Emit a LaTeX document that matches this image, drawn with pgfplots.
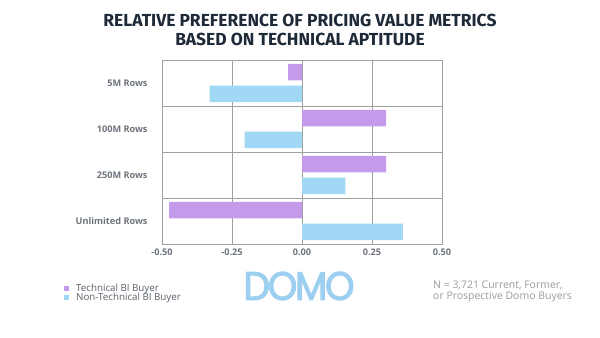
\documentclass[border=0pt]{standalone}
\usepackage{fontspec}
\setmainfont{Open Sans}
\newfontfamily\titlefont{Fira Sans}
\newfontfamily\logofont[LetterSpace=-6, FakeBold=3]{Poppins}
\usepackage{graphicx}
\usepackage{pgfplots}
\pgfplotsset{compat=1.18}
\usepackage{pgfplotstable}
\definecolor{techc}{RGB}{196,155,235}
\definecolor{nontechc}{RGB}{160,216,245}
\definecolor{gridc}{RGB}{160,160,160}
\definecolor{titlec}{RGB}{30,42,56}
\definecolor{labc}{RGB}{90,97,107}
\definecolor{ticklabc}{RGB}{110,116,124}
\definecolor{notec}{RGB}{155,155,155}
\definecolor{logoc}{RGB}{157,207,240}
\pgfplotstableread{
idx tech nontech
3 -0.05 -0.33
2 0.30 -0.205
1 0.30 0.155
0 -0.475 0.36
}\datatable
\begin{document}
\begin{tikzpicture}[x=1bp,y=1bp]
\path[use as bounding box, fill=white] (0,0) rectangle (600,337);
\node[font=\titlefont\bfseries\fontsize{17.5}{20}\selectfont, text=titlec] at (300,316.5) {RELATIVE PREFERENCE OF PRICING VALUE METRICS};
\node[font=\titlefont\bfseries\fontsize{17.5}{20}\selectfont, text=titlec] at (300,297.5) {BASED ON TECHNICAL APTITUDE};
\begin{axis}[
  at={(162bp,93bp)}, anchor=south west,
  scale only axis, width=280bp, height=184bp,
  xbar, bar width=16.5bp,
  xmin=-0.5, xmax=0.5, ymin=-0.5, ymax=3.5,
  xtick={-0.5,-0.25,0,0.25,0.5},
  xticklabels={-0.50,-0.25,0.00,0.25,0.50},
  ytick={0,1,2,3},
  yticklabels={Unlimited Rows,250M Rows,100M Rows,5M Rows},
  minor ytick={0.5,1.5,2.5},
  xmajorgrids=true, yminorgrids=true,
  grid style={gridc, line width=0.8pt},
  minor grid style={gridc, line width=0.8pt},
  axis line style={gridc, line width=0.8pt},
  major tick length=0pt, minor tick length=0pt,
  tick label style={font=\bfseries\fontsize{9.2}{10}\selectfont, text=ticklabc},
  yticklabel style={xshift=-11bp},
  xticklabel style={yshift=-1bp},
  legend style={at={(-0.350,-0.205)}, anchor=north west, draw=none, fill=none,
    font=\fontsize{9.8}{10}\selectfont, text=labc, row sep=-3.5bp,
    inner sep=0pt, nodes={inner xsep=7bp}},
  legend cell align=left,
  legend image code/.code={\path[#1, draw=none] (0bp,-2.5bp) rectangle (5bp,2.5bp);},
]
\addplot[fill=techc, draw=none, bar shift=10.8bp] table[x=tech, y=idx] {\datatable};
\addplot[fill=nontechc, draw=none, bar shift=-10.8bp] table[x=nontech, y=idx] {\datatable};
\legend{Technical BI Buyer, Non-Technical BI Buyer}
\end{axis}
\node[text=logoc, inner sep=0pt] at (299,51) {\resizebox{111bp}{28bp}{\logofont DOMO}};
\node[anchor=west, align=left, text=notec, font=\fontsize{10.5}{11.5}\selectfont, inner sep=0pt] at (433,45.5) {N = 3,721 Current, Former,\\or Prospective Domo Buyers};
\end{tikzpicture}
\end{document}
